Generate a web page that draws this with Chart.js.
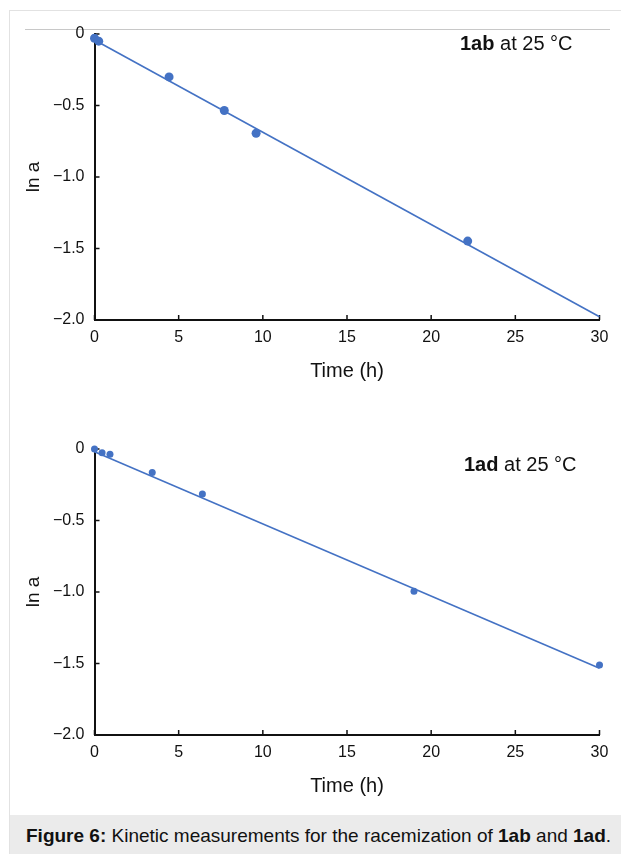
<!DOCTYPE html>
<html>
<head>
<meta charset="utf-8">
<script src="https://cdn.jsdelivr.net/npm/chart.js@4.4.1/dist/chart.umd.min.js"></script>
<style>
  html, body { margin: 0; padding: 0; background: #fff; }
  body { width: 621px; height: 854px; position: relative; overflow: hidden;
         font-family: 'Liberation Sans', Arial, Helvetica, sans-serif; }
  #frame { position: absolute; left: 9px; top: 10px; right: 0; bottom: 0;
           border-left: 1px solid #e2e2e2; border-top: 1px solid #e2e2e2; }
  #rule { position: absolute; left: 25px; top: 29px; width: 585px; height: 1px; background: #c8c8c8; }
  canvas { position: absolute; left: 0; }
  #caption { position: absolute; left: 10px; top: 815px; right: 0; height: 39px;
             background: #ebebeb; color: #111; font-size: 19px; line-height: 42px;
             padding-left: 16px; white-space: nowrap; }
</style>
</head>
<body>
<div id="frame"></div>
<div id="rule"></div>
<canvas id="chartAB" width="621" height="400" style="top:0"></canvas>
<canvas id="chartAD" width="621" height="400" style="top:415px"></canvas>
<div id="caption"><b>Figure 6:</b> Kinetic measurements for the racemization of <b>1ab</b> and <b>1ad</b>.</div>
<script>
// 1ab at 25 °C
const timeAB = [0, 0.25, 4.43, 7.71, 9.6, 22.17];
const lnaAB = [-0.03, -0.05, -0.30, -0.535, -0.694, -1.448];
const fitTimeAB = [0, 30];
const fitAB = [-0.042, -1.977];

// 1ad at 25 °C
const timeAD = [0, 0.45, 0.92, 3.43, 6.41, 18.98, 30.0];
const lnaAD = [0, -0.026, -0.037, -0.165, -0.315, -0.995, -1.51];
const fitTimeAD = [0, 30];
const fitAD = [-0.02, -1.533];

const xTicks = [0, 5, 10, 15, 20, 25, 30];
const yTicks = [0, -0.5, -1.0, -1.5, -2.0];

const FONT = "'Liberation Sans', Arial, Helvetica, sans-serif";
const BLUE = '#4472C4';

const toXY = (xs, ys) => xs.map((x, i) => ({ x, y: ys[i] }));

// Excel style: tick marks point into the plot
const inwardTicks = {
  id: 'inwardTicks',
  beforeDatasetsDraw(chart) {
    const { ctx, chartArea, scales } = chart;
    ctx.save();
    ctx.strokeStyle = '#111';
    ctx.lineWidth = 1.5;
    ctx.beginPath();
    xTicks.forEach((v) => {
      const px = scales.x.getPixelForValue(v);
      ctx.moveTo(px, chartArea.bottom);
      ctx.lineTo(px, chartArea.bottom - 5);
    });
    yTicks.forEach((v) => {
      const py = scales.y.getPixelForValue(v);
      ctx.moveTo(chartArea.left, py);
      ctx.lineTo(chartArea.left + 5, py);
    });
    ctx.stroke();
    ctx.restore();
  },
};

const runLabel = {
  id: 'runLabel',
  afterDraw(chart, args, opts) {
    const { ctx, chartArea } = chart;
    ctx.save();
    ctx.fillStyle = '#111';
    ctx.textBaseline = 'alphabetic';
    ctx.font = `bold 20px ${FONT}`;
    const w1 = ctx.measureText(opts.bold).width;
    ctx.font = `20px ${FONT}`;
    const w2 = ctx.measureText(opts.rest).width;
    const x0 = chartArea.right - opts.right - w1 - w2;
    const y0 = chartArea.top + opts.top;
    ctx.font = `bold 20px ${FONT}`;
    ctx.fillText(opts.bold, x0, y0);
    ctx.font = `20px ${FONT}`;
    ctx.fillText(opts.rest, x0 + w1, y0);
    ctx.restore();
  },
};

function renderKinetics(id, points, fit, radius, label) {
  new Chart(document.getElementById(id), {
    type: 'scatter',
    data: {
      datasets: [
        {
          data: points,
          backgroundColor: BLUE,
          borderColor: BLUE,
          pointRadius: radius,
          pointBorderWidth: 0,
          showLine: false,
          clip: false,
          order: 0,
        },
        {
          data: fit,
          borderColor: BLUE,
          borderWidth: 1.6,
          pointRadius: 0,
          showLine: true,
          clip: false,
          order: 1,
        },
      ],
    },
    options: {
      responsive: false,
      animation: false,
      events: [],
      layout: { padding: { top: 34, right: 21.5, bottom: 0, left: 0 } },
      plugins: {
        legend: { display: false },
        tooltip: { enabled: false },
        runLabel: label,
      },
      scales: {
        x: {
          type: 'linear',
          min: 0,
          max: 30,
          afterBuildTicks: (s) => { s.ticks = xTicks.map((v) => ({ value: v })); },
          afterFit: (s) => { s.height = 80; },
          grid: { display: false, drawTicks: false },
          border: { display: true, color: '#111', width: 2 },
          ticks: { color: '#111', padding: 8, font: { size: 16, family: FONT } },
          title: {
            display: true,
            text: 'Time (h)',
            color: '#111',
            font: { size: 20, family: FONT, lineHeight: 1.2 },
            padding: { top: 0, bottom: 17 },
          },
        },
        y: {
          type: 'linear',
          min: -2,
          max: 0,
          afterBuildTicks: (s) => { s.ticks = yTicks.map((v) => ({ value: v })); },
          afterFit: (s) => { s.width = 94.5; },
          grid: { display: false, drawTicks: false },
          border: { display: true, color: '#111', width: 2 },
          ticks: {
            color: '#111',
            padding: 10,
            font: { size: 16, family: FONT },
            callback: (v) => (v === 0 ? '0' : '\u2212' + Math.abs(v).toFixed(1)),
          },
          title: {
            display: true,
            text: 'ln a',
            color: '#111',
            font: { size: 19, family: FONT, lineHeight: 1.2 },
            padding: { top: 22, bottom: 0 },
          },
        },
      },
    },
    plugins: [inwardTicks, runLabel],
  });
}

renderKinetics('chartAB', toXY(timeAB, lnaAB), toXY(fitTimeAB, fitAB), 4.5,
  { bold: '1ab', rest: ' at 25 \u00B0C', right: 27, top: 16 });
renderKinetics('chartAD', toXY(timeAD, lnaAD), toXY(fitTimeAD, fitAD), 3.5,
  { bold: '1ad', rest: ' at 25 \u00B0C', right: 23, top: 22 });
</script>
</body>
</html>
